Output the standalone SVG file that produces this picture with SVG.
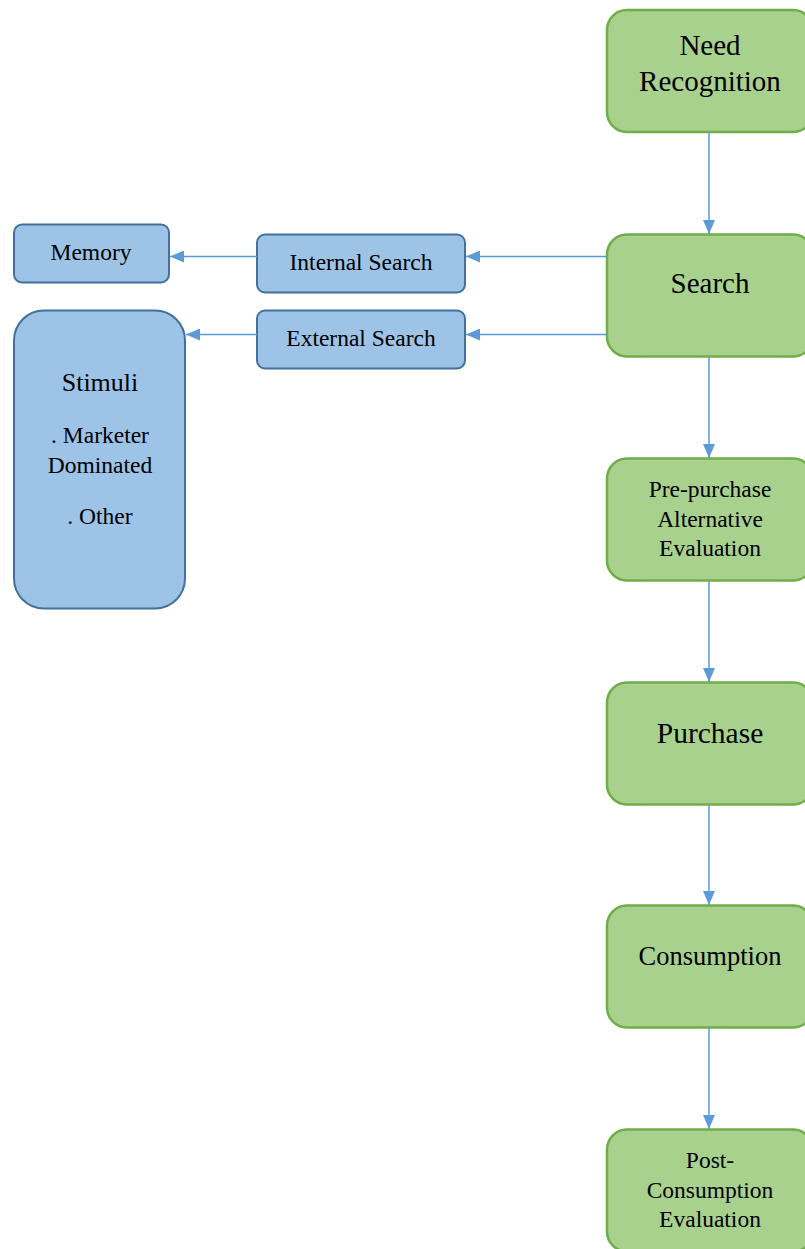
<svg xmlns="http://www.w3.org/2000/svg" width="805" height="1249" viewBox="0 0 805 1249">
  <defs>
    <style>
      .step { fill: #a9d18e; stroke: #70ad47; stroke-width: 2.5; }
      .src { fill: #9dc3e6; stroke: #41719c; stroke-width: 2; }
      .lbl { font-family: "Liberation Serif", "Times New Roman", serif; fill: #000; text-anchor: middle; }
      .link { stroke: #5b9bd5; stroke-width: 1.5; fill: none; marker-end: url(#tip); }
    </style>
    <marker id="tip" viewBox="0 0 14 12" refX="14" refY="6" markerWidth="14" markerHeight="12" markerUnits="userSpaceOnUse" orient="auto">
      <path d="M0,0 L14,6 L0,12 Z" fill="#5b9bd5"/>
    </marker>
  </defs>

  <!-- process steps -->
  <g id="need-recognition">
    <rect class="step" x="607" y="10" width="206" height="122" rx="20"/>
    <text class="lbl" x="710" y="55" font-size="29">Need</text>
    <text class="lbl" x="710" y="91" font-size="29">Recognition</text>
  </g>
  <g id="search">
    <rect class="step" x="607" y="234.5" width="206" height="122" rx="20"/>
    <text class="lbl" x="710" y="293" font-size="29">Search</text>
  </g>
  <g id="pre-purchase">
    <rect class="step" x="607" y="458.5" width="206" height="122" rx="20"/>
    <text class="lbl" x="710" y="497" font-size="23.5">Pre-purchase</text>
    <text class="lbl" x="710" y="527" font-size="23.5">Alternative</text>
    <text class="lbl" x="710" y="556" font-size="23.5">Evaluation</text>
  </g>
  <g id="purchase">
    <rect class="step" x="607" y="682.5" width="206" height="122" rx="20"/>
    <text class="lbl" x="710" y="742.5" font-size="29.5">Purchase</text>
  </g>
  <g id="consumption">
    <rect class="step" x="607" y="905.5" width="206" height="122" rx="20"/>
    <text class="lbl" x="710" y="964.5" font-size="26.5">Consumption</text>
  </g>
  <g id="post-consumption">
    <rect class="step" x="607" y="1129.5" width="206" height="122" rx="20"/>
    <text class="lbl" x="710" y="1168" font-size="23.5">Post-</text>
    <text class="lbl" x="710" y="1198" font-size="23.5">Consumption</text>
    <text class="lbl" x="710" y="1227" font-size="23.5">Evaluation</text>
  </g>

  <!-- information sources -->
  <g id="internal-search">
    <rect class="src" x="257" y="234.5" width="208" height="58" rx="8"/>
    <text class="lbl" x="361" y="270" font-size="23.5">Internal Search</text>
  </g>
  <g id="external-search">
    <rect class="src" x="257" y="310.5" width="208" height="58" rx="8"/>
    <text class="lbl" x="361" y="346" font-size="23.5">External Search</text>
  </g>
  <g id="memory">
    <rect class="src" x="14" y="224.5" width="155" height="58" rx="8"/>
    <text class="lbl" x="91" y="260" font-size="23.5">Memory</text>
  </g>
  <g id="stimuli">
    <rect class="src" x="14" y="310.5" width="171" height="298" rx="30"/>
    <text class="lbl" x="100" y="391" font-size="26">Stimuli</text>
    <text class="lbl" x="100" y="443" font-size="23.5">. Marketer</text>
    <text class="lbl" x="100" y="473" font-size="23.5">Dominated</text>
    <text class="lbl" x="100" y="524" font-size="23.5">. Other</text>
  </g>

  <!-- connectors -->
  <g id="connectors">
    <line class="link" x1="709" y1="132" x2="709" y2="234"/>
    <line class="link" x1="709" y1="357" x2="709" y2="458"/>
    <line class="link" x1="709" y1="581" x2="709" y2="682"/>
    <line class="link" x1="709" y1="805" x2="709" y2="905"/>
    <line class="link" x1="709" y1="1028" x2="709" y2="1129"/>
    <line class="link" x1="607" y1="256.5" x2="466" y2="256.5"/>
    <line class="link" x1="607" y1="334.5" x2="466" y2="334.5"/>
    <line class="link" x1="257" y1="256.5" x2="170" y2="256.5"/>
    <line class="link" x1="257" y1="334.5" x2="186" y2="334.5"/>
  </g>
</svg>
